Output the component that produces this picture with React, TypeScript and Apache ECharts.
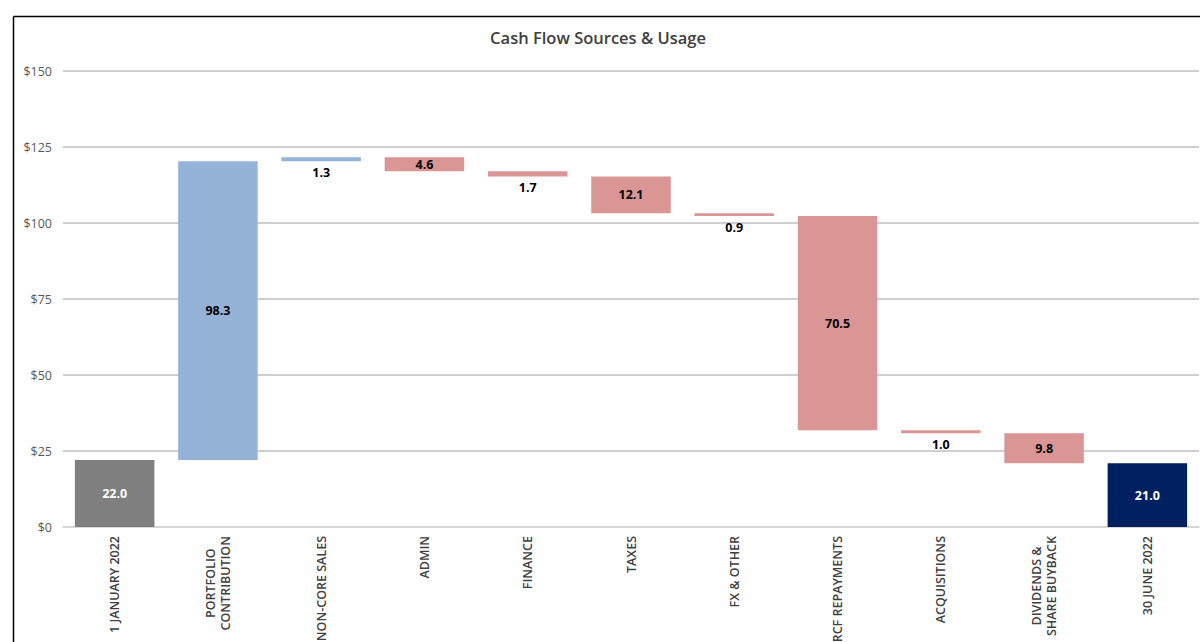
import React, { useEffect, useRef } from "react";
import * as echarts from "echarts";

const categories = [
  "1 JANUARY 2022",
  "PORTFOLIO\nCONTRIBUTION",
  "NON-CORE SALES",
  "ADMIN",
  "FINANCE",
  "TAXES",
  "FX & OTHER",
  "RCF REPAYMENTS",
  "ACQUISITIONS",
  "DIVIDENDS &\nSHARE BUYBACK",
  "30 JUNE 2022",
];
const changes = [22.0, 98.3, 1.3, -4.6, -1.7, -12.1, -0.9, -70.5, -1.0, -9.8, 21.0];
const kinds = ["start", "up", "up", "down", "down", "down", "down", "down", "down", "down", "end"];
const yTicks = [0, 25, 50, 75, 100, 125, 150];

const colors: Record<string, string> = {
  start: "#7f7f7f",
  up: "#95b3d7",
  down: "#da9694",
  end: "#002060",
};

export default function App() {
  const ref = useRef<HTMLDivElement>(null);
  useEffect(() => {
    if (!ref.current) return;
    const chart = echarts.init(ref.current, null, { renderer: "svg" });
    let running = 0;
    const base: number[] = [];
    const heights: number[] = [];
    changes.forEach((v, i) => {
      const k = kinds[i];
      if (k === "start" || k === "end") {
        base.push(0);
        heights.push(v);
        running = v;
      } else if (v >= 0) {
        base.push(running);
        heights.push(v);
        running += v;
      } else {
        running += v;
        base.push(running);
        heights.push(-v);
      }
    });
    const font = "'Open Sans', 'Noto Sans', sans-serif";
    const valueData = heights.map((h, i) => {
      const k = kinds[i];
      const white = k === "start" || k === "end";
      return {
        value: h,
        itemStyle: { color: colors[k] },
        label: {
          show: true,
          position: h < 3 ? "bottom" : "inside",
          distance: 5,
          formatter: () => Math.abs(changes[i]).toFixed(1),
          color: white ? "#ffffff" : "#000000",
          fontWeight: "bold",
          fontSize: 12.5,
          fontFamily: font,
        },
      };
    });
    chart.setOption({
      animation: false,
      title: {
        text: "Cash Flow Sources & Usage",
        left: 593,
        top: 24,
        textAlign: "center",
        textStyle: { fontSize: 16.5, fontWeight: 600, color: "#404040", fontFamily: font },
      },
      graphic: [
        {
          type: "line",
          shape: { x1: 13.5, y1: 16.5, x2: 1200, y2: 16.5 },
          style: { stroke: "#000", lineWidth: 1.5 },
          silent: true,
        },
        {
          type: "line",
          shape: { x1: 13.5, y1: 16.5, x2: 13.5, y2: 642 },
          style: { stroke: "#000", lineWidth: 1.5 },
          silent: true,
        },
      ],
      grid: { left: 63, right: 3, top: 71, bottom: 115, outerBoundsMode: "none", containLabel: false },
      xAxis: {
        type: "category",
        data: categories,
        axisLine: { show: true, lineStyle: { color: "#d9d9d9", width: 1.5 } },
        axisTick: { show: false },
        axisLabel: {
          interval: 0,
          rotate: 90,
          margin: 9,
          color: "#404040",
          fontSize: 12.5,
          fontFamily: font,
          formatter: (v: string) =>
            v
              .split("\n")
              .map((s) => "{c|" + s + "}")
              .join("\n"),
          rich: {
            c: {
              align: "center",
              fontSize: 12.5,
              fontWeight: 600,
              fontFamily: font,
              color: "#404040",
              lineHeight: 15,
            },
          },
        },
      },
      yAxis: {
        type: "value",
        min: yTicks[0],
        max: yTicks[yTicks.length - 1],
        interval: 25,
        axisLine: { show: false },
        axisTick: { show: false },
        axisLabel: {
          formatter: (v: number) => "$" + v,
          color: "#595959",
          fontSize: 12.5,
          margin: 11,
          fontFamily: font,
        },
        splitLine: { lineStyle: { color: "#bfbfbf", width: 1.5 } },
      },
      series: [
        {
          type: "bar",
          stack: "w",
          data: base,
          itemStyle: { color: "transparent" },
          barWidth: "77%",
          silent: true,
        },
        {
          type: "bar",
          stack: "w",
          data: valueData,
          barWidth: "77%",
        },
      ],
    });
    return () => chart.dispose();
  }, []);
  return (
    <div
      ref={ref}
      style={{ position: "fixed", left: 0, top: 0, width: 1202, height: 642, background: "#fff" }}
    />
  );
}
